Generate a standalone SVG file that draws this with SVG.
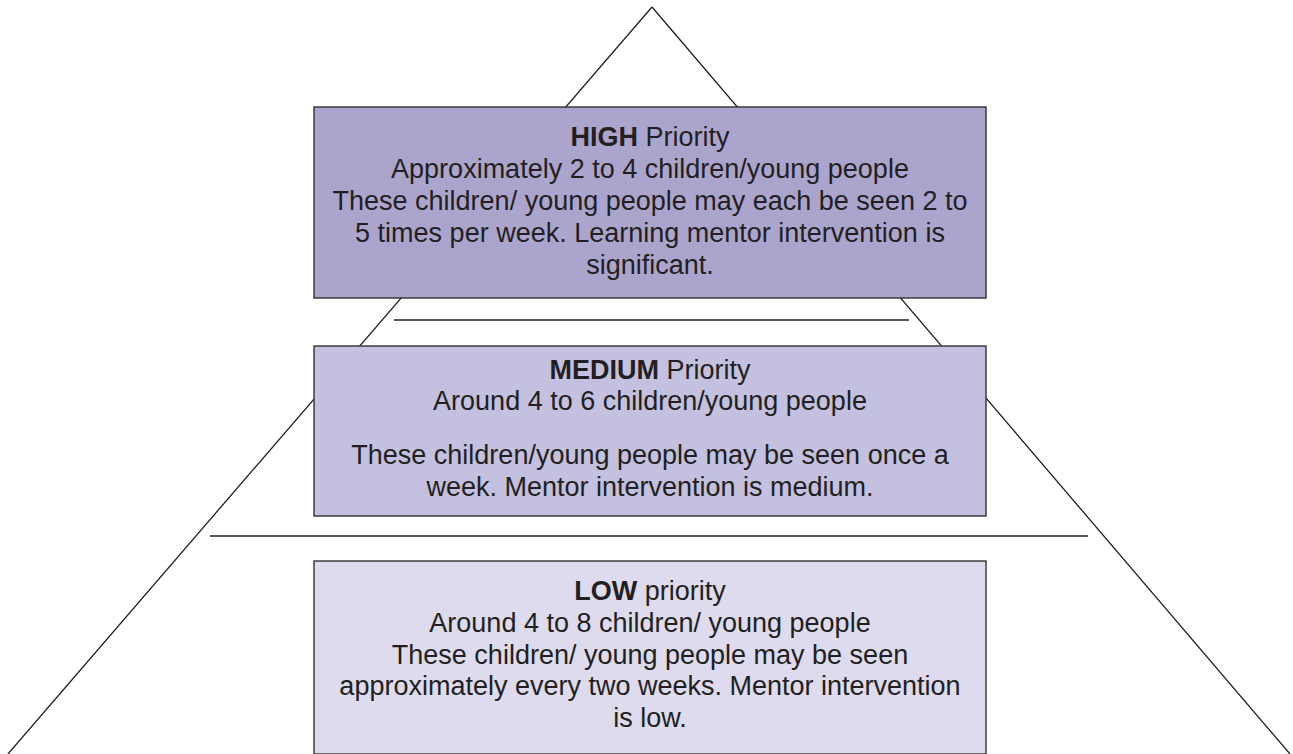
<svg xmlns="http://www.w3.org/2000/svg" width="1293" height="754" viewBox="0 0 1293 754">
<style>
.box{stroke:#333132;stroke-width:1.4}
.ln{stroke:#231f20;stroke-width:1.3;fill:none}
.t{font-family:"Liberation Sans",Arial,sans-serif;font-size:27px;fill:#231f20;text-anchor:middle}
.b{font-weight:bold}
</style>
<rect width="1293" height="754" fill="#ffffff"/>
<g id="connectors">
<line class="ln" x1="652" y1="7" x2="8" y2="754"/>
<line class="ln" x1="652" y1="7" x2="1290" y2="754"/>
<line class="ln" x1="394" y1="320" x2="909" y2="320"/>
<line class="ln" x1="210" y1="536" x2="1088" y2="536"/>
</g>
<g id="high">
<rect class="box" x="314" y="107" width="672" height="191" fill="#aba5cd"/>
<text class="t" x="650" y="146"><tspan class="b">HIGH</tspan> Priority</text>
<text class="t" x="650" y="178">Approximately 2 to 4 children/young people</text>
<text class="t" x="650" y="210">These children/ young people may each be seen 2 to</text>
<text class="t" x="650" y="242">5 times per week. Learning mentor intervention is</text>
<text class="t" x="650" y="274">significant.</text>
</g>
<g id="medium">
<rect class="box" x="314" y="346" width="672" height="170" fill="#c4c0df"/>
<text class="t" x="650" y="379"><tspan class="b">MEDIUM</tspan> Priority</text>
<text class="t" x="650" y="410">Around 4 to 6 children/young people</text>
<text class="t" x="650" y="464">These children/young people may be seen once a</text>
<text class="t" x="650" y="496">week. Mentor intervention is medium.</text>
</g>
<g id="low">
<rect class="box" x="314" y="561" width="672" height="193" fill="#dddbed"/>
<text class="t" x="650" y="600"><tspan class="b">LOW</tspan> priority</text>
<text class="t" x="650" y="632">Around 4 to 8 children/ young people</text>
<text class="t" x="650" y="664">These children/ young people may be seen</text>
<text class="t" x="650" y="695">approximately every two weeks. Mentor intervention</text>
<text class="t" x="650" y="727">is low.</text>
</g>
</svg>
